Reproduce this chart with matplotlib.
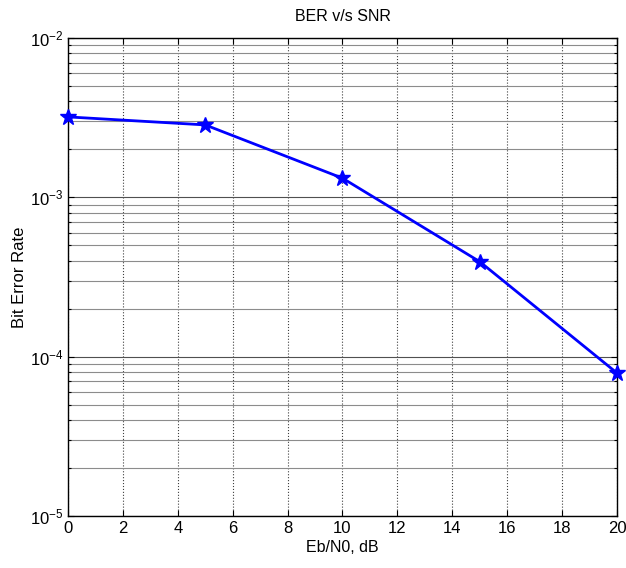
import matplotlib
matplotlib.use('Agg')
import matplotlib.pyplot as plt
from matplotlib.ticker import LogLocator, FixedLocator

plt.rcParams['font.family'] = ['Liberation Sans', 'DejaVu Sans']

# data
ebn0_db = [0, 5, 10, 15, 20]
ber = [3.2e-3, 2.85e-3, 1.32e-3, 3.95e-4, 7.9e-5]
x_ticks = [0, 2, 4, 6, 8, 10, 12, 14, 16, 18, 20]

fig = plt.figure(figsize=(6.26, 5.68), dpi=100)
ax = fig.add_axes([0.1086, 0.0915, 0.877, 0.8415])

ax.semilogy(ebn0_db, ber, color='#0000ff', linewidth=2, marker='*',
            markersize=12, markerfacecolor='#0000ff', markeredgecolor='#0000ff',
            clip_on=False, zorder=5)

ax.set_xlim(0, 20)
ax.set_ylim(1e-5, 1e-2)
ax.xaxis.set_major_locator(FixedLocator(x_ticks))
ax.yaxis.set_major_locator(LogLocator(base=10, numticks=10))
ax.yaxis.set_minor_locator(LogLocator(base=10, subs=range(2, 10), numticks=20))

ax.grid(True, which='major', axis='x', color='#404040', linestyle=':', linewidth=0.8)
ax.grid(True, which='major', axis='y', color='#505050', linestyle='-', linewidth=0.8)
ax.grid(True, which='minor', axis='y', color='#8c8c8c', linestyle='-', linewidth=0.8)

ax.tick_params(which='both', direction='in', top=True, right=True,
               labelsize=12, length=4, width=0.8)
ax.tick_params(which='minor', length=2)
for s in ax.spines.values():
    s.set_linewidth(1.0)

ax.set_title('BER v/s SNR', fontsize=11.5, pad=12)
ax.set_xlabel('Eb/N0, dB', fontsize=11.5, labelpad=3)
ax.set_ylabel('Bit Error Rate', fontsize=12, labelpad=2)

fig.savefig('out.png', dpi=100)
